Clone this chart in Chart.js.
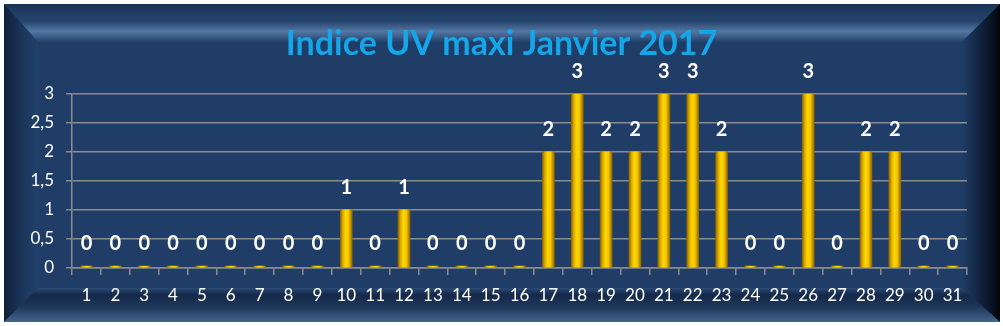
<!DOCTYPE html>
<html lang="fr">
<head>
<meta charset="UTF-8">
<title>Indice UV maxi Janvier 2017</title>
<script src="https://cdn.jsdelivr.net/npm/chart.js"></script>
<style>
  body { margin: 0; background: #ffffff; }
  canvas { display: block; }
</style>
</head>
<body>
<canvas id="uvChart" width="1003" height="326"></canvas>
<script>
  const days = ['1','2','3','4','5','6','7','8','9','10','11','12','13','14','15','16',
                '17','18','19','20','21','22','23','24','25','26','27','28','29','30','31'];
  const uvMax = [0,0,0,0,0,0,0,0,0,1,0,1,0,0,0,0,2,3,2,2,3,3,2,0,0,3,0,2,2,0,0];
  const yTicks = [0, 0.5, 1, 1.5, 2, 2.5, 3];

  const FONT = 'Lato, "Open Sans", sans-serif';

  // bevelled dark blue frame behind everything
  const framePlugin = {
    id: 'frame',
    beforeDraw(chart) {
      const c = chart.ctx;
      const L = 4, T = 4, R = 1000, B = 322;
      const bl = 34, bt = 38, br = 38, bb = 34;
      c.save();
      c.fillStyle = '#ffffff';
      c.fillRect(0, 0, chart.width, chart.height);
      // inner panel
      c.fillStyle = '#1f3d66';
      c.fillRect(L, T, R - L, B - T);

      // top bevel
      let g = c.createLinearGradient(0, T, 0, T + bt);
      g.addColorStop(0, '#1a3459');
      g.addColorStop(0.45, '#24446d');
      g.addColorStop(0.72, '#5376a2');
      g.addColorStop(0.85, '#3d5f8a');
      g.addColorStop(1, '#20406a');
      c.fillStyle = g;
      c.beginPath();
      c.moveTo(L, T); c.lineTo(R, T); c.lineTo(R - br, T + bt); c.lineTo(L + bl, T + bt); c.closePath();
      c.fill();

      // left bevel
      g = c.createLinearGradient(L, 0, L + bl, 0);
      g.addColorStop(0, '#101f37');
      g.addColorStop(0.5, '#1a3559');
      g.addColorStop(1, '#21416b');
      c.fillStyle = g;
      c.beginPath();
      c.moveTo(L, T); c.lineTo(L + bl, T + bt); c.lineTo(L + bl, B - bb); c.lineTo(L, B); c.closePath();
      c.fill();

      // right bevel
      g = c.createLinearGradient(R - br, 0, R, 0);
      g.addColorStop(0, '#1f3d66');
      g.addColorStop(0.5, '#10223d');
      g.addColorStop(1, '#02060d');
      c.fillStyle = g;
      c.beginPath();
      c.moveTo(R, T); c.lineTo(R, B); c.lineTo(R - br, B - bb); c.lineTo(R - br, T + bt); c.closePath();
      c.fill();

      // bottom bevel
      g = c.createLinearGradient(0, B - bb, 0, B);
      g.addColorStop(0, '#2a4a74');
      g.addColorStop(0.2, '#15294a');
      g.addColorStop(0.55, '#1d3659');
      g.addColorStop(1, '#46658c');
      c.fillStyle = g;
      c.beginPath();
      c.moveTo(L, B); c.lineTo(L + bl, B - bb); c.lineTo(R - br, B - bb); c.lineTo(R, B); c.closePath();
      c.fill();
      c.restore();
    }
  };

  // value labels above each bar
  const valueLabels = {
    id: 'valueLabels',
    afterDatasetsDraw(chart) {
      const c = chart.ctx;
      const meta = chart.getDatasetMeta(0);
      c.save();
      c.fillStyle = '#ffffff';
      c.font = 'bold 20px ' + FONT;
      c.textAlign = 'center';
      c.textBaseline = 'middle';
      meta.data.forEach((bar, i) => {
        c.fillText(String(uvMax[i]), bar.x, bar.y - 22);
      });
      c.restore();
    }
  };

  function barGradient(ctx) {
    const chart = ctx.chart;
    const x = chart.scales && chart.scales.x;
    if (!x || !chart.chartArea) return '#ffc000';
    const cx = x.getPixelForValue(ctx.dataIndex);
    const g = chart.ctx.createLinearGradient(cx - 6, 0, cx + 6, 0);
    g.addColorStop(0, '#8a6400');
    g.addColorStop(0.2, '#d9a800');
    g.addColorStop(0.45, '#ffd800');
    g.addColorStop(0.7, '#f5c400');
    g.addColorStop(1, '#8f6600');
    return g;
  }

  new Chart(document.getElementById('uvChart'), {
    type: 'bar',
    data: {
      labels: days,
      datasets: [{
        data: uvMax,
        backgroundColor: barGradient,
        borderWidth: 0,
        barThickness: 12,
        minBarLength: 2
      }]
    },
    options: {
      responsive: false,
      animation: false,
      layout: { padding: { left: 18, right: 18, top: 0, bottom: 0 } },
      plugins: {
        legend: { display: false },
        tooltip: { enabled: false },
        title: {
          display: true,
          text: 'Indice UV maxi Janvier 2017',
          color: '#14a6e8',
          font: { family: FONT, size: 34, weight: 'bold' },
          padding: { top: 24, bottom: 29 }
        }
      },
      scales: {
        x: {
          offset: true,
          grid: {
            display: true,
            offset: true,
            drawOnChartArea: false,
            color: '#8c8c8c',
            lineWidth: 1.5,
            tickLength: 7
          },
          border: { display: true, color: '#8c8c8c', width: 1.5 },
          ticks: {
            color: '#ffffff',
            font: { family: FONT, size: 17 },
            padding: 10,
            maxRotation: 0,
            autoSkip: false
          },
          afterFit(s) { s.height = 58; }
        },
        y: {
          min: 0,
          max: 3,
          afterBuildTicks(s) { s.ticks = yTicks.map(v => ({ value: v })); },
          grid: {
            color: '#8c8c8c',
            lineWidth: 1.5,
            tickLength: 6
          },
          border: { display: true, color: '#8c8c8c', width: 1.5 },
          ticks: {
            color: '#ffffff',
            font: { family: FONT, size: 17 },
            padding: 12,
            callback: v => String(v).replace('.', ',')
          },
          afterFit(s) { s.width = 54; }
        },
        // empty spacer on the right so the plot ends where the original does
        spacer: {
          type: 'linear',
          position: 'right',
          grid: { display: false },
          border: { display: false },
          ticks: { display: false },
          afterFit(s) { s.width = 18; }
        }
      }
    },
    plugins: [framePlugin, valueLabels]
  });
</script>
</body>
</html>
